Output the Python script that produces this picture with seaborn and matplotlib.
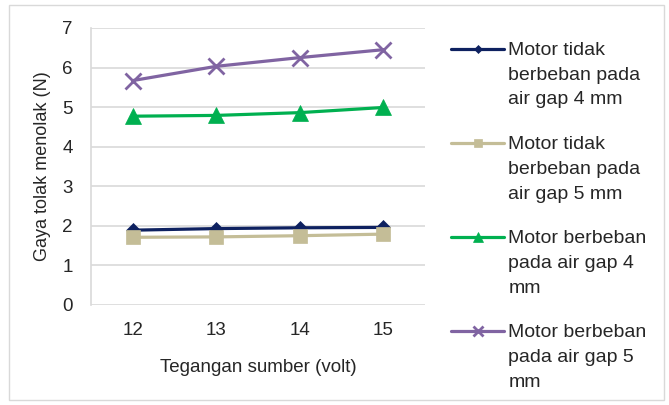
import numpy as np
import pandas as pd
import matplotlib
matplotlib.use("Agg")
import matplotlib.pyplot as plt
import seaborn as sns
from matplotlib.patches import Rectangle

volt = ["12", "13", "14", "15"]
tidak_4mm = [1.89, 1.93, 1.95, 1.96]
tidak_5mm = [1.71, 1.72, 1.75, 1.79]
beban_4mm = [4.77, 4.79, 4.86, 4.99]
beban_5mm = [5.67, 6.03, 6.25, 6.45]

labels = ["Motor tidak\nberbeban pada\nair gap 4 mm",
          "Motor tidak\nberbeban pada\nair gap 5 mm",
          "Motor berbeban\npada air gap 4\nmm",
          "Motor berbeban\npada air gap 5\nmm"]
colors = ["#0E2160", "#C4BD97", "#00B050", "#8064A2"]
markers = ["D", "s", "^", "x"]
msizes = [7, 10, 11, 11]

sns.set_style("white")
plt.rcParams["font.family"] = ["Liberation Sans", "DejaVu Sans"]

fig = plt.figure(figsize=(6.69, 4.05), dpi=100)
ax = fig.add_axes([0.136, 0.247, 0.499, 0.684])

series = [tidak_4mm, tidak_5mm, beban_4mm, beban_5mm]
for vals, lab, c, m, ms in zip(series, labels, colors, markers, msizes):
    df = pd.DataFrame({"volt": volt, "gaya": vals})
    sns.lineplot(data=df, x="volt", y="gaya", ax=ax, color=c, marker=m,
                 markersize=ms, linewidth=2.3, label=lab,
                 markeredgecolor=c, markeredgewidth=2 if m == "x" else 0.5)

ax.set_ylim(0, 7)
ax.set_xlim(-0.5, 3.5)
ax.set_yticks(range(8))
ax.yaxis.grid(True, color="#D9D9D9", linewidth=1.2)
for s in ["top", "right", "bottom"]:
    ax.spines[s].set_visible(False)
ax.spines["left"].set_color("#D9D9D9")
ax.spines["left"].set_linewidth(1.2)
ax.tick_params(axis="y", length=5, color="#D9D9D9", width=1.2, labelsize=13.5, pad=8)
ax.tick_params(axis="x", length=0, labelsize=13.5, pad=12)
ax.set_xlabel("Tegangan sumber (volt)", fontsize=13.5, labelpad=15)
ax.set_ylabel("Gaya tolak menolak (N)", fontsize=13, labelpad=8)

leg = ax.legend(loc="upper left", bbox_to_anchor=(0.648, 0.94),
                bbox_transform=fig.transFigure, frameon=False, fontsize=14,
                handlelength=2.75, handletextpad=0.2, labelspacing=1.42,
                markerscale=0.6)
for t in leg.get_texts():
    t.set_linespacing(1.6)
for col in leg._legend_handle_box.get_children():
    for row in col.get_children():
        row.align = "top"

fig.patches.append(Rectangle((0.013, 0.012), 0.98, 0.975, transform=fig.transFigure,
                             fill=False, edgecolor="#D9D9D9", linewidth=1))

fig.savefig("out.png", dpi=100)
